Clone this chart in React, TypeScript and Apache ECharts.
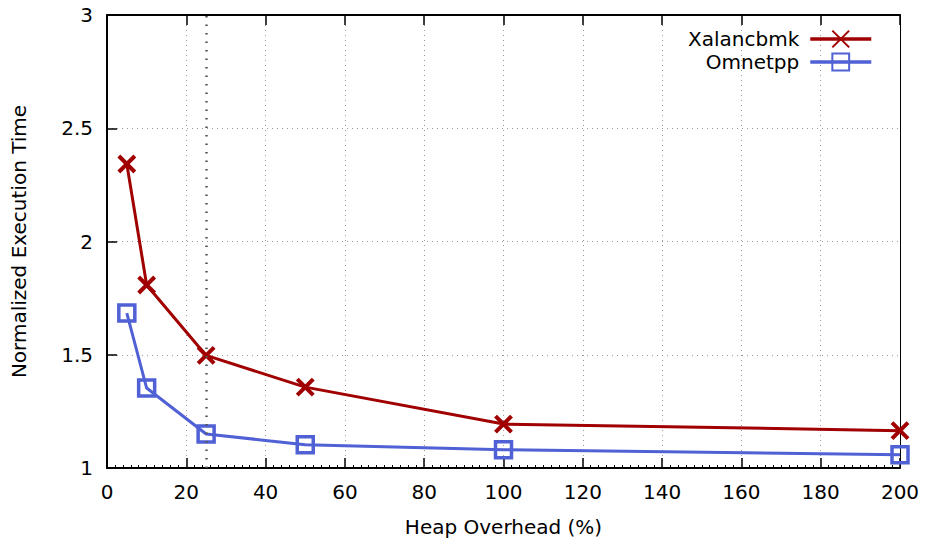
import React, { useEffect, useRef } from "react";
import * as echarts from "echarts";

const heapOverhead = [5, 10, 25, 50, 100, 200];
const xalancbmk = [2.342, 1.808, 1.497, 1.357, 1.194, 1.165];
const omnetpp = [1.684, 1.353, 1.15, 1.103, 1.081, 1.059];
const seriesNames = ["Xalancbmk", "Omnetpp"];
const markerX = 25;

const FONT = "DejaVu Sans";
const RED = "#a00000";
const BLUE = "#5060d5";

export default function App() {
  const ref = useRef<HTMLDivElement>(null);
  useEffect(() => {
    if (!ref.current) return;
    const chart = echarts.init(ref.current, null, { renderer: "svg" });
    const toPairs = (ys: number[]) => heapOverhead.map((x, i) => [x, ys[i]]);
    chart.setOption({
      animation: false,
      backgroundColor: "#ffffff",
      textStyle: { fontFamily: FONT },
      grid: { left: 107, right: 25, top: 15, bottom: 75 },
      legend: {
        orient: "vertical",
        right: 47,
        top: 24,
        align: "right",
        itemWidth: 61,
        itemHeight: 21,
        itemGap: 3,
        lineStyle: { width: 3.5 },
        textStyle: { fontFamily: FONT, fontSize: 20, color: "#000", padding: [0, 6, 0, 0] },
        data: seriesNames,
      },
      xAxis: [
        {
          type: "value",
          min: 0,
          max: 200,
          interval: 20,
          name: "Heap Overhead (%)",
          nameLocation: "middle",
          nameGap: 49,
          nameTextStyle: { fontFamily: FONT, fontSize: 20, color: "#000" },
          axisLine: { show: true, onZero: false, lineStyle: { color: "#000", width: 2 } },
          axisTick: { show: true, inside: true, length: 10, lineStyle: { color: "#000", width: 1.5 } },
          minorTick: { show: true, splitNumber: 10, length: 3, lineStyle: { color: "#000", width: 1 } },
          axisLabel: { fontFamily: FONT, fontSize: 20, color: "#000", margin: 14 },
          splitLine: { show: true, lineStyle: { color: "#999", type: [1, 4], width: 1 } },
        },
        {
          type: "value",
          position: "top",
          min: 0,
          max: 200,
          interval: 20,
          axisLine: { show: true, onZero: false, lineStyle: { color: "#000", width: 2 } },
          axisTick: { show: true, inside: true, length: 10, lineStyle: { color: "#000", width: 1.5 } },
          axisLabel: { show: false },
          splitLine: { show: false },
        },
      ],
      yAxis: [
        {
          type: "value",
          min: 1,
          max: 3,
          interval: 0.5,
          name: "Normalized Execution Time",
          nameLocation: "middle",
          nameGap: 78,
          nameTextStyle: { fontFamily: FONT, fontSize: 20, color: "#000" },
          axisLine: { show: true, onZero: false, lineStyle: { color: "#000", width: 2 } },
          axisTick: { show: true, inside: true, length: 10, lineStyle: { color: "#000", width: 1.5 } },
          axisLabel: { fontFamily: FONT, fontSize: 20, color: "#000", margin: 14 },
          splitLine: { show: true, lineStyle: { color: "#999", type: [1, 4], width: 1 } },
        },
        {
          type: "value",
          position: "right",
          min: 1,
          max: 3,
          interval: 0.5,
          axisLine: { show: true, onZero: false, lineStyle: { color: "#000", width: 1 } },
          axisTick: { show: false },
          axisLabel: { show: false },
          splitLine: { show: false },
        },
      ],
      series: [
        {
          name: seriesNames[0],
          type: "line",
          data: toPairs(xalancbmk),
          symbol: "path://M0,0L10,10M10,0L0,10",
          symbolSize: 16,
          lineStyle: { color: RED, width: 3 },
          itemStyle: { color: "rgba(0,0,0,0)", borderColor: RED, borderWidth: 4 },
          z: 3,
          markLine: {
            silent: true,
            symbol: "none",
            label: { show: false },
            lineStyle: { color: "#555", type: [1.5, 7], width: 2.5 },
            data: [{ xAxis: markerX }],
          },
        },
        {
          name: seriesNames[1],
          type: "line",
          data: toPairs(omnetpp),
          symbol: "rect",
          symbolSize: 16,
          lineStyle: { color: BLUE, width: 3 },
          itemStyle: { color: "rgba(0,0,0,0)", borderColor: BLUE, borderWidth: 3.5 },
          z: 3,
        },
      ],
    });
    return () => chart.dispose();
  }, []);
  return <div ref={ref} style={{ width: 925, height: 543, position: "absolute", left: 0, top: 0 }} />;
}
